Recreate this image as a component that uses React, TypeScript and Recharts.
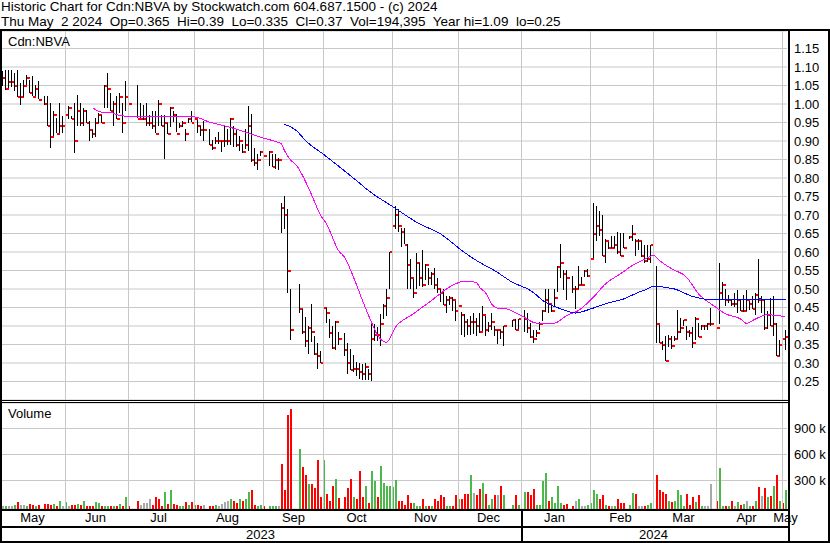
import { ComposedChart, Bar, Line, XAxis, YAxis, CartesianGrid, ReferenceLine } from 'recharts'

const FONT = '"Liberation Sans", Arial, sans-serif'
const RED = '#ff0000'
const GREEN = '#4cb84c'
const GREY = '#a8a8a8'
const GRID = '#c8c8c8'

// x positions are weekday numbers counted from Mon 1 May 2023 (holidays / no-trade days are left empty)
const FIRST_DAY = 2
const LAST_DAY = 263

const monthStarts = [23, 44, 66, 89, 109, 132, 154, 175, 198, 219, 240, 262]
const monthLabelDays = [12, 33, 54, 77, 99, 120, 143, 164, 186, 208, 229, 250, 263]
const monthLabels = ['May', 'Jun', 'Jul', 'Aug', 'Sep', 'Oct', 'Nov', 'Dec', 'Jan', 'Feb', 'Mar', 'Apr', 'May']
const yearLabelDays = [88, 219]
const yearLabels = ['2023', '2024']

const priceTicks = [0.25, 0.3, 0.35, 0.4, 0.45, 0.5, 0.55, 0.6, 0.65, 0.7, 0.75, 0.8, 0.85, 0.9, 0.95, 1.0, 1.05, 1.1, 1.15]
const volumeTicks = [300, 600, 900]

const days = [
  2, 3, 4, 5, 6, 7, 8, 9, 10, 11, 12, 13, 14, 16, 17, 18, 19, 20, 21, 22,
  23, 24, 25, 26, 27, 28, 29, 30, 31, 32, 33, 34, 35, 36, 37, 38, 39, 40, 41, 42, 43, 44,
  47, 48, 49, 50, 51, 52, 53, 54, 55, 56, 57, 58, 59, 60, 61, 62, 63, 64, 65,
  66, 67, 68, 69, 71, 72, 73, 74, 75, 76, 77, 78, 79, 80, 81, 82, 83, 84, 85, 86, 87, 88,
  89, 91, 92, 93, 94, 95, 96, 97, 98, 101, 102, 103, 104, 105, 106, 107, 108, 109,
  110, 111, 112, 113, 114, 116, 117, 118, 119, 120, 121, 122, 123, 124, 125, 126, 127, 128, 129, 130, 131,
  132, 133, 134, 135, 136, 137, 138, 139, 140, 141, 142, 143, 144, 145, 146, 147, 148, 149, 150, 151, 152, 153,
  154, 155, 156, 157, 158, 159, 160, 161, 162, 163, 164, 165, 166, 167, 168, 169, 172, 173, 174,
  176, 177, 178, 179, 180, 181, 182, 183, 184, 185, 186, 187, 188, 189, 190, 192, 193, 194, 195, 196, 197,
  198, 199, 200, 201, 202, 203, 204, 205, 206, 207, 208, 209, 211, 212, 213, 214, 215, 216, 217, 218,
  220, 221, 222, 223, 224, 225, 226, 227, 228, 229, 230, 231, 232, 233, 234, 235, 236, 237, 238,
  240, 241, 242, 243, 244, 245, 246, 247, 248, 249, 250, 251, 252, 253, 254, 255, 256, 257, 258, 259, 260, 261,
  262, 263,
]

const highs = [
  1.09, 1.093, 1.093, 1.093, 1.084, 1.093, 1.057, 1.066, 1.079, 1.066, 1.075, 1.052, 1.061, 1.021, 1.021, 1.003, 0.98, 0.962, 1.003, 0.967,
  0.994, 0.994, 0.967, 1.003, 1.025, 1.003, 0.989, 0.985, 0.953, 0.931, 0.962, 0.976, 0.971, 1.052, 1.084, 1.03, 1.007, 1.021, 1.03, 1.003, 1.061, 1.007,
  1.052, 1.003, 0.998, 1.003, 0.971, 0.98, 0.98, 1.01, 0.971, 0.97, 0.95, 0.993, 0.98, 0.972, 0.95, 0.955, 0.933, 0.963, 0.981,
  0.995, 0.958, 0.94, 0.954, 0.933, 0.904, 0.91, 0.923, 0.9, 0.94, 0.933, 0.963, 0.94, 0.932, 0.914, 0.891, 0.932, 0.995, 0.972, 0.882, 0.864, 0.873,
  0.873, 0.873, 0.864, 0.864, 0.855, 0.733, 0.751, 0.715, 0.5, 0.513, 0.445, 0.423, 0.4, 0.459, 0.373, 0.353, 0.332, 0.483,
  0.45, 0.418, 0.4, 0.414, 0.384, 0.382, 0.353, 0.337, 0.321, 0.303, 0.301, 0.297, 0.301, 0.283, 0.405, 0.405, 0.396, 0.432, 0.459, 0.5, 0.6,
  0.693, 0.723, 0.716, 0.664, 0.664, 0.621, 0.58, 0.528, 0.596, 0.571, 0.605, 0.567, 0.556, 0.545, 0.558, 0.53, 0.5, 0.5, 0.482, 0.482, 0.478, 0.468,
  0.482, 0.437, 0.432, 0.418, 0.428, 0.435, 0.421, 0.434, 0.453, 0.426, 0.412, 0.435, 0.4, 0.39, 0.39, 0.4, 0.417, 0.42, 0.42,
  0.444, 0.435, 0.408, 0.39, 0.39, 0.412, 0.442, 0.5, 0.5, 0.457, 0.5, 0.561, 0.622, 0.552, 0.552, 0.535, 0.507, 0.563, 0.532, 0.552, 0.554,
  0.592, 0.732, 0.723, 0.71, 0.7, 0.635, 0.628, 0.642, 0.642, 0.653, 0.651, 0.651, 0.642, 0.673, 0.635, 0.635, 0.63, 0.62, 0.62, 0.62,
  0.561, 0.404, 0.36, 0.372, 0.377, 0.372, 0.372, 0.442, 0.422, 0.417, 0.4, 0.39, 0.397, 0.425, 0.408, 0.404, 0.404, 0.408, 0.449,
  0.454, 0.57, 0.52, 0.5, 0.485, 0.47, 0.49, 0.498, 0.47, 0.485, 0.498, 0.467, 0.48, 0.489, 0.582, 0.48, 0.47, 0.44, 0.476, 0.48, 0.408, 0.363,
  0.39, 0.39,
]

const lows = [
  1.05, 1.039, 1.043, 1.048, 1.034, 1.021, 0.998, 1.021, 1.052, 1.03, 1.021, 1.021, 1.012, 0.998, 0.94, 0.881, 0.913, 0.922, 0.922, 0.922,
  0.967, 0.958, 0.958, 0.869, 0.94, 0.94, 0.94, 0.949, 0.899, 0.91, 0.91, 0.949, 0.949, 0.989, 0.989, 0.98, 0.94, 0.958, 0.976, 0.922, 0.98, 0.998,
  0.962, 0.962, 0.958, 0.94, 0.94, 0.931, 0.92, 0.94, 0.94, 0.85, 0.92, 0.94, 0.95, 0.922, 0.937, 0.94, 0.9, 0.95, 0.95,
  0.95, 0.922, 0.912, 0.9, 0.891, 0.878, 0.89, 0.891, 0.87, 0.882, 0.891, 0.891, 0.882, 0.882, 0.873, 0.868, 0.878, 0.873, 0.841, 0.832, 0.82, 0.86,
  0.855, 0.832, 0.83, 0.823, 0.823, 0.652, 0.661, 0.488, 0.362, 0.434, 0.377, 0.341, 0.323, 0.355, 0.322, 0.283, 0.3, 0.31,
  0.41, 0.366, 0.339, 0.336, 0.35, 0.319, 0.269, 0.279, 0.274, 0.265, 0.258, 0.255, 0.254, 0.252, 0.252, 0.36, 0.357, 0.346, 0.418, 0.427, 0.5,
  0.558, 0.662, 0.653, 0.612, 0.62, 0.5, 0.5, 0.477, 0.5, 0.51, 0.505, 0.525, 0.51, 0.51, 0.5, 0.49, 0.464, 0.457, 0.436, 0.457, 0.44, 0.414,
  0.355, 0.374, 0.371, 0.375, 0.376, 0.378, 0.373, 0.38, 0.385, 0.372, 0.385, 0.39, 0.372, 0.352, 0.367, 0.345, 0.399, 0.39, 0.394,
  0.385, 0.38, 0.367, 0.355, 0.372, 0.39, 0.412, 0.439, 0.435, 0.439, 0.45, 0.49, 0.529, 0.498, 0.47, 0.489, 0.444, 0.5, 0.51, 0.534, 0.533,
  0.547, 0.583, 0.628, 0.642, 0.59, 0.57, 0.609, 0.609, 0.609, 0.593, 0.59, 0.61, 0.633, 0.631, 0.59, 0.606, 0.588, 0.57, 0.575, 0.57,
  0.354, 0.356, 0.336, 0.305, 0.345, 0.336, 0.358, 0.363, 0.381, 0.4, 0.363, 0.37, 0.34, 0.363, 0.37, 0.39, 0.39, 0.39, 0.4,
  0.39, 0.404, 0.47, 0.453, 0.463, 0.453, 0.453, 0.435, 0.44, 0.44, 0.44, 0.444, 0.444, 0.43, 0.462, 0.435, 0.39, 0.39, 0.4, 0.372, 0.32, 0.32,
  0.32, 0.335,
]

const closes = [
  1.07, 1.04, 1.06, 1.06, 1.05, 1.02, 1.02, 1.05, 1.07, 1.03, 1.02, 1.04, 1.01, 1.0, 0.94, 0.91, 0.97, 0.92, 0.94, 0.94,
  0.97, 0.99, 0.96, 0.9, 0.98, 0.95, 0.98, 0.95, 0.93, 0.92, 0.95, 0.97, 0.95, 1.05, 1.04, 0.98, 1.0, 0.96, 1.02, 0.95, 1.02, 1.0,
  0.96, 0.96, 0.96, 0.95, 0.95, 0.94, 0.92, 1.0, 0.94, 0.95, 0.92, 0.99, 0.97, 0.92, 0.94, 0.95, 0.92, 0.96, 0.95,
  0.96, 0.94, 0.93, 0.93, 0.89, 0.88, 0.9, 0.9, 0.9, 0.9, 0.9, 0.96, 0.92, 0.89, 0.9, 0.87, 0.89, 0.94, 0.85, 0.84, 0.85, 0.87,
  0.86, 0.87, 0.83, 0.85, 0.85, 0.72, 0.7, 0.55, 0.39, 0.445, 0.385, 0.36, 0.395, 0.385, 0.325, 0.32, 0.3, 0.45,
  0.435, 0.38, 0.34, 0.41, 0.365, 0.335, 0.3, 0.28, 0.285, 0.285, 0.275, 0.27, 0.29, 0.27, 0.365, 0.375, 0.375, 0.405, 0.455, 0.475, 0.6,
  0.67, 0.7, 0.67, 0.655, 0.62, 0.565, 0.53, 0.49, 0.57, 0.53, 0.51, 0.565, 0.53, 0.54, 0.51, 0.5, 0.49, 0.457, 0.47, 0.475, 0.47, 0.44,
  0.455, 0.43, 0.41, 0.4, 0.41, 0.41, 0.4, 0.385, 0.43, 0.39, 0.4, 0.41, 0.39, 0.39, 0.385, 0.4, 0.415, 0.39, 0.42,
  0.42, 0.395, 0.37, 0.365, 0.38, 0.405, 0.44, 0.47, 0.46, 0.44, 0.475, 0.56, 0.57, 0.54, 0.53, 0.5, 0.5, 0.51, 0.51, 0.55, 0.535,
  0.58, 0.65, 0.67, 0.66, 0.59, 0.63, 0.61, 0.61, 0.62, 0.6, 0.59, 0.61, 0.64, 0.65, 0.63, 0.63, 0.59, 0.575, 0.58, 0.62,
  0.405, 0.355, 0.35, 0.305, 0.365, 0.345, 0.365, 0.385, 0.395, 0.415, 0.385, 0.38, 0.355, 0.42, 0.37, 0.4, 0.4, 0.405, 0.405,
  0.395, 0.49, 0.51, 0.47, 0.47, 0.46, 0.46, 0.47, 0.44, 0.44, 0.47, 0.46, 0.445, 0.485, 0.47, 0.47, 0.395, 0.43, 0.4, 0.405, 0.32, 0.35,
  0.365, 0.37,
]

// daily volume in thousands of shares
const volumes = [
  5, 5, 5, 8, 12, 50, 20, 12, 8, 30, 12, 10, 20, 27, 27, 12, 27, 5, 58, 5,
  50, 5, 12, 12, 27, 20, 58, 5, 5, 5, 50, 42, 5, 8, 8, 8, 10, 5, 25, 8, 108, 8,
  58, 12, 38, 38, 81, 12, 108, 88, 5, 173, 27, 196, 27, 12, 5, 5, 50, 12, 50,
  20, 12, 5, 12, 5, 5, 12, 5, 27, 50, 58, 88, 58, 38, 81, 58, 81, 173, 196, 12, 5, 12,
  8, 8, 8, 8, 5, 485, 185, 1050, 1120, 658, 454, 358, 262, 254, 212, 542, 108, 542,
  142, 58, 242, 312, 96, 108, 219, 323, 115, 81, 415, 115, 235, 38, 415, 289, 108, 462, 273, 242, 242,
  223, 300, 58, 65, 20, 127, 42, 38, 5, 5, 81, 5, 5, 5, 88, 58, 127, 115, 5, 5, 5, 127,
  88, 88, 142, 146, 358, 158, 135, 204, 273, 142, 12, 81, 135, 127, 231, 127, 20, 127, 12,
  162, 173, 127, 204, 12, 12, 289, 389, 65, 108, 38, 231, 42, 20, 27, 5, 58, 81, 5, 5, 12,
  38, 196, 146, 88, 127, 12, 5, 5, 5, 88, 38, 38, 12, 158, 146, 5, 5, 5, 12, 38,
  358, 196, 166, 142, 58, 50, 69, 185, 127, 5, 142, 12, 115, 50, 135, 5, 5, 5, 254,
  58, 442, 5, 5, 5, 58, 5, 50, 12, 31, 58, 5, 5, 65, 223, 119, 212, 108, 119, 235, 369, 69,
  38, 194,
]

// volume bar colour: 1 = up day, -1 = down day, 0 = unchanged
const volumeTone = [
  0, 1, 0, 0, 1, -1, 0, 0, 1, -1, -1, 1, -1, -1, -1, -1, 1, -1, 1, 0,
  1, 0, -1, -1, 1, -1, 1, -1, -1, -1, 1, 1, -1, 1, 1, -1, 1, -1, 1, -1, 1, -1,
  -1, 0, 0, 0, 0, -1, -1, -1, -1, 1, -1, 1, -1, -1, 1, 1, -1, 1, -1,
  1, -1, -1, 0, -1, -1, 1, 0, 0, 0, 0, 1, -1, -1, 1, -1, 1, 1, -1, -1, 1, 1,
  -1, 1, 1, 1, 0, -1, -1, -1, -1, 1, -1, -1, 1, -1, -1, -1, -1, 1,
  -1, -1, -1, 1, -1, -1, -1, -1, 1, -1, -1, -1, 1, -1, 1, 1, -1, 1, 1, 1, 1,
  1, 1, -1, -1, -1, -1, -1, 1, 1, 1, -1, 1, -1, 1, -1, -1, -1, -1, 1, 1, -1, -1,
  1, -1, -1, -1, 1, 0, -1, -1, 1, -1, 1, 1, -1, 0, -1, 1, 1, -1, 1,
  1, -1, -1, -1, 1, 1, 1, 1, -1, 1, 1, 1, 1, -1, -1, -1, 0, 1, 0, 0, 1,
  1, 1, 1, -1, -1, 1, -1, 0, 1, -1, -1, -1, 1, 1, -1, 0, 0, -1, 1, 1,
  -1, -1, -1, -1, 1, -1, 1, 1, 1, 1, -1, -1, -1, 1, -1, 1, 0, 0, 0,
  -1, 1, 1, -1, 1, -1, 0, 1, -1, 1, 0, 1, -1, 1, -1, 0, -1, 1, -1, 1, -1, 1,
  -1, 1,
]

// moving averages (magenta = short, blue = long)
const fastMaDays = [32, 35, 38, 41, 46, 50, 55, 60, 66, 71, 77, 83, 88, 92, 95, 96, 98, 100, 102, 105, 108, 110, 114, 116, 119, 122, 125, 127, 130, 133, 139, 145, 152, 156, 160, 161, 163, 165, 167, 170, 175, 180, 186, 190, 194, 199, 203, 208, 212, 216, 219, 221, 225, 230, 234, 239, 243, 248, 250, 253, 257, 260, 263]
const fastMa = [0.99, 0.978, 0.977, 0.969, 0.966, 0.966, 0.966, 0.966, 0.965, 0.951, 0.939, 0.924, 0.91, 0.901, 0.892, 0.874, 0.849, 0.834, 0.807, 0.755, 0.7, 0.676, 0.604, 0.586, 0.532, 0.469, 0.41, 0.375, 0.356, 0.397, 0.433, 0.469, 0.51, 0.521, 0.518, 0.505, 0.49, 0.46, 0.448, 0.446, 0.428, 0.408, 0.408, 0.428, 0.442, 0.478, 0.514, 0.541, 0.564, 0.58, 0.591, 0.577, 0.555, 0.532, 0.487, 0.455, 0.433, 0.419, 0.407, 0.419, 0.431, 0.428, 0.426]
const slowMaDays = [96, 100, 103, 109, 120, 124, 132, 141, 148, 151, 154, 161, 166, 172, 178, 183, 189, 193, 198, 203, 209, 214, 216, 219, 226, 232, 239, 248, 254, 263]
const slowMa = [0.945, 0.928, 0.901, 0.864, 0.793, 0.766, 0.723, 0.676, 0.649, 0.631, 0.611, 0.572, 0.55, 0.518, 0.496, 0.464, 0.444, 0.435, 0.446, 0.46, 0.473, 0.491, 0.497, 0.507, 0.5, 0.48, 0.471, 0.471, 0.473, 0.471]

type Row = { i: number; h?: number; l?: number; c?: number; v?: number; tone?: number; fast?: number; slow?: number }

const rows: Row[] = []
for (let i = FIRST_DAY; i <= LAST_DAY; i++) rows.push({ i })
days.forEach((d, k) => {
  const r = rows[d - FIRST_DAY]
  r.h = highs[k]
  r.l = lows[k]
  r.c = closes[k]
  r.v = volumes[k]
  r.tone = volumeTone[k]
})
fastMaDays.forEach((d, k) => { rows[d - FIRST_DAY].fast = fastMa[k] })
slowMaDays.forEach((d, k) => { rows[d - FIRST_DAY].slow = slowMa[k] })

const PRICE_DOMAIN: [number, number] = [0.2, 1.1973]
const VOL_DOMAIN: [number, number] = [-28.9, 1194.2]

const toneColor = (t?: number) => (t === 1 ? GREEN : t === -1 ? RED : GREY)

// high-low stick with the close marked in red just to its right
const HlcBar = (p: any) => {
  const d = p.payload
  if (!d || d.h == null) return <g />
  const top = Math.min(p.y, p.y + p.height)
  const span = Math.abs(p.height)
  const cx = Math.floor(p.x + p.width / 2)
  const cy = d.h === d.l ? top : top + ((d.h - d.c) / (d.h - d.l)) * span
  return (
    <g>
      <rect x={cx} y={Math.round(top)} width={1} height={Math.max(1, Math.round(span))} fill="#000" />
      <rect x={cx + 1} y={Math.round(cy) - 1} width={3} height={2} fill={RED} />
    </g>
  )
}

const VolBar = (p: any) => {
  const d = p.payload
  if (!d || d.v == null) return <g />
  const top = Math.min(p.y, p.y + p.height)
  return <rect x={Math.round(p.x)} y={Math.round(top)} width={2} height={Math.round(Math.abs(p.height))} fill={toneColor(d.tone)} />
}

const axisTick = { fontSize: 13, fill: '#000', fontFamily: FONT }

export default function App() {
  return (
    <div style={{ position: 'absolute', left: 0, top: 0, width: 830, height: 543, background: '#fff', fontFamily: FONT, overflow: 'hidden' }}>
      <div style={{ position: 'absolute', left: 1, top: -1, fontSize: 13.5, lineHeight: '15px', whiteSpace: 'pre', color: '#000' }}>
        {'Historic Chart for Cdn:NBVA by Stockwatch.com 604.687.1500 - (c) 2024'}
        <br />
        {'Thu May  2 2024  Op=0.365  Hi=0.39  Lo=0.335  Cl=0.37  Vol=194,395  Year hi=1.09  lo=0.25'}
      </div>

      {/* price panel */}
      <div style={{ position: 'absolute', left: 0, top: 0 }}>
        <ComposedChart width={830} height={400} data={rows} margin={{ top: 31, right: 0, bottom: 0, left: 1 }}>
          <CartesianGrid vertical={false} stroke={GRID} />
          <XAxis dataKey="i" type="category" hide />
          <YAxis
            orientation="right"
            type="number"
            domain={PRICE_DOMAIN}
            allowDataOverflow
            ticks={priceTicks}
            interval={0}
            width={43}
            tickSize={0}
            tickMargin={7}
            axisLine={false}
            tickLine={false}
            tick={axisTick}
            tickFormatter={(v: number) => v.toFixed(2)}
          />
          {monthStarts.map((m) => (
            <ReferenceLine key={m} x={m} stroke={GRID} />
          ))}
          <Bar dataKey={(d: Row) => (d.h == null ? null : [d.l, d.h])} barSize={3} shape={HlcBar} isAnimationActive={false} />
          <Line dataKey="fast" type="monotone" stroke="#ff00ff" strokeWidth={1} dot={false} connectNulls shapeRendering="crispEdges" isAnimationActive={false} />
          <Line dataKey="slow" type="monotone" stroke="#0000ff" strokeWidth={1} dot={false} connectNulls shapeRendering="crispEdges" isAnimationActive={false} />
        </ComposedChart>
      </div>

      {/* volume panel */}
      <div style={{ position: 'absolute', left: 0, top: 400 }}>
        <ComposedChart width={830} height={143} data={rows} margin={{ top: 3, right: 0, bottom: 0, left: 1 }}>
          <CartesianGrid vertical={false} stroke={GRID} />
          <XAxis
            dataKey="i"
            type="category"
            ticks={monthLabelDays}
            interval={0}
            height={17}
            tickSize={0}
            tickMargin={4}
            axisLine={false}
            tickLine={false}
            tick={axisTick}
            tickFormatter={(v: number) => monthLabels[monthLabelDays.indexOf(v)]}
          />
          <XAxis
            xAxisId="yr"
            dataKey="i"
            type="category"
            ticks={yearLabelDays}
            interval={0}
            height={17}
            tickSize={0}
            tickMargin={4}
            axisLine={false}
            tickLine={false}
            tick={axisTick}
            tickFormatter={(v: number) => yearLabels[yearLabelDays.indexOf(v)]}
          />
          <YAxis
            orientation="right"
            type="number"
            domain={VOL_DOMAIN}
            allowDataOverflow
            ticks={volumeTicks}
            interval={0}
            width={43}
            tickSize={0}
            tickMargin={7}
            axisLine={false}
            tickLine={false}
            tick={axisTick}
            tickFormatter={(v: number) => `${v} k`}
          />
          {monthStarts.map((m) => (
            <ReferenceLine key={m} x={m} stroke={GRID} />
          ))}
          <Bar dataKey={(d: Row) => (d.v == null ? null : [VOL_DOMAIN[0], d.v])} barSize={2} shape={VolBar} isAnimationActive={false} />
        </ComposedChart>
      </div>

      {/* frame */}
      <svg width={830} height={543} style={{ position: 'absolute', left: 0, top: 0, pointerEvents: 'none' }}>
        <g fill="#000">
          <rect x={0} y={29} width={830} height={2} />
          <rect x={0} y={29} width={2} height={514} />
          <rect x={828} y={29} width={2} height={514} />
          <rect x={0} y={541} width={830} height={2} />
          <rect x={788} y={29} width={2} height={514} />
          <rect x={0} y={400} width={788} height={1} />
          <rect x={0} y={402} width={788} height={1} />
          <rect x={0} y={509} width={788} height={2} />
          <rect x={0} y={526} width={788} height={2} />
          <rect x={521} y={509} width={2} height={34} />
        </g>
        <text x={8} y={46} fontSize={13} fontFamily={FONT} fill="#000">Cdn:NBVA</text>
        <text x={8} y={418} fontSize={13} fontFamily={FONT} fill="#000">Volume</text>
      </svg>
    </div>
  )
}
